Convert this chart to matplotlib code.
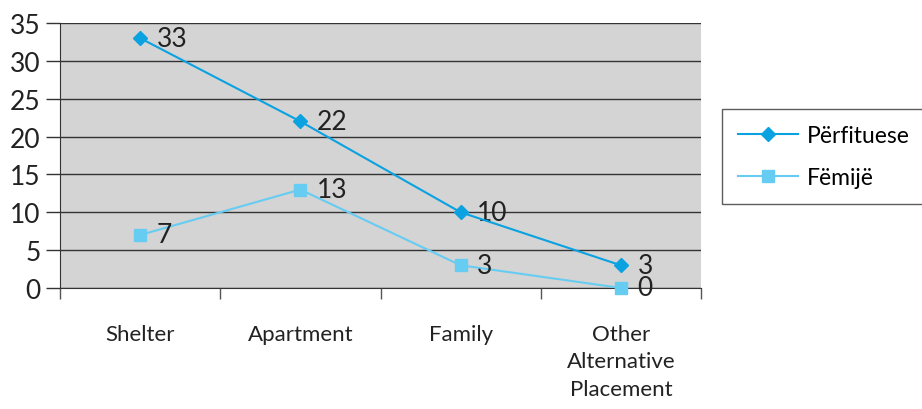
import matplotlib
matplotlib.use("Agg")
import matplotlib.pyplot as plt
from matplotlib.ticker import FixedLocator

categories = ["Shelter", "Apartment", "Family", "Other\nAlternative\nPlacement"]
perfituese = [33, 22, 10, 3]
femije = [7, 13, 3, 0]
series_names = ["Përfituese", "Fëmijë"]

plt.rcParams['font.family'] = ['Lato', 'DejaVu Sans']

fig = plt.figure(figsize=(9.22, 4.10), dpi=100)
ax = fig.add_axes([60/922, 1-289/410, (701-60)/922, (289-24)/410])
ax.set_facecolor('#D4D4D4')

x = list(range(len(categories)))
c1 = '#0AA2E0'
c2 = '#66CCF2'
l1, = ax.plot(x, perfituese, color=c1, marker='D', markersize=7, lw=1.5, label=series_names[0], clip_on=False, zorder=4)
l2, = ax.plot(x, femije, color=c2, marker='s', markersize=8, lw=1.5, label=series_names[1], clip_on=False, zorder=3)

for xi, v in zip(x, perfituese):
    ax.annotate(str(v), (xi, v), xytext=(12, 0), textcoords='offset points', va='center', ha='left', fontsize=19, color='#222222')
for xi, v in zip(x, femije):
    ax.annotate(str(v), (xi, v), xytext=(12, 0), textcoords='offset points', va='center', ha='left', fontsize=19, color='#222222')

ax.set_xlim(-0.5, len(categories) - 0.5)
ax.set_ylim(0, 35)
ax.set_yticks(range(0, 36, 5))
ax.yaxis.grid(True, color='#333333', lw=1)
ax.set_axisbelow(True)
ax.tick_params(axis='y', labelsize=19, length=10, width=1, color='#333333', pad=4, labelcolor='#222222')

ax.set_xticks(x)
ax.set_xticklabels(categories, fontsize=16, color='#222222', linespacing=1.45)
ax.xaxis.set_minor_locator(FixedLocator([i - 0.5 for i in range(len(categories) + 1)]))
ax.tick_params(axis='x', which='major', length=0, pad=26)
ax.tick_params(axis='x', which='minor', length=8, width=1, color='#555555')

for s in ['top', 'right']:
    ax.spines[s].set_visible(False)
ax.spines['left'].set_color('#333333')
ax.spines['bottom'].set_color('#333333')

leg = fig.legend(handles=[l1, l2], loc='upper left', bbox_to_anchor=(722/922, 1-110/410),
                 frameon=True, fancybox=False, edgecolor='#333333', fontsize=16.5,
                 handlelength=2.6, borderpad=0.7, labelspacing=0.9, handletextpad=0.4,
                 borderaxespad=0)
leg.get_frame().set_linewidth(1)

fig.savefig('out.png', dpi=100)
